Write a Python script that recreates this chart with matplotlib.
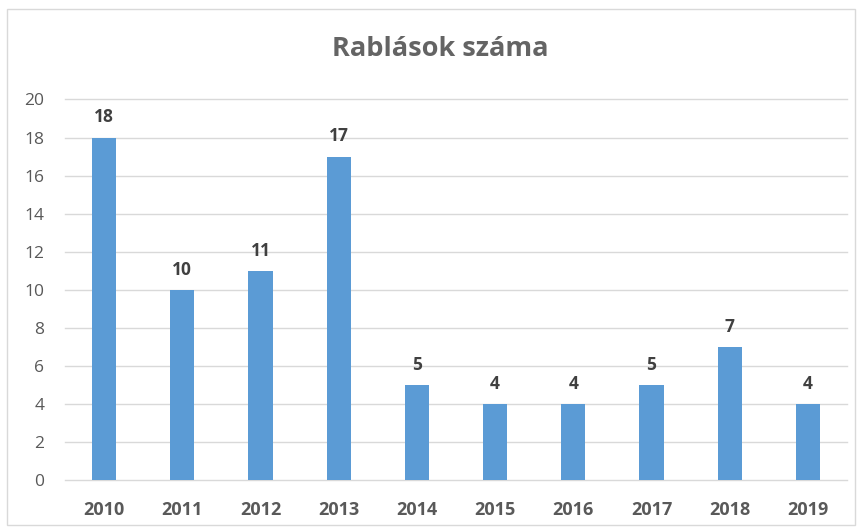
import matplotlib
matplotlib.use("Agg")
import matplotlib.pyplot as plt
from matplotlib.patches import Rectangle

years = ["2010", "2011", "2012", "2013", "2014", "2015", "2016", "2017", "2018", "2019"]
values = [18, 10, 11, 17, 5, 4, 4, 5, 7, 4]
title = "Rablások száma"
yticks = [0, 2, 4, 6, 8, 10, 12, 14, 16, 18, 20]

plt.rcParams['font.family'] = ['Open Sans', 'DejaVu Sans']

fig = plt.figure(figsize=(8.63, 5.30), dpi=100)
fig.patches.append(Rectangle((7/863, 5/530), 848/863, 516/530, transform=fig.transFigure,
                             fill=False, edgecolor='#d9d9d9', linewidth=1))
ax = fig.add_axes([65/863, 50/530, 782/863, 380.5/530])

x = list(range(len(years)))
bars = ax.bar(x, values, width=0.31, color='#5b9bd5', zorder=3)
for xi, v in zip(x, values):
    ax.annotate(str(v), (xi, v), xytext=(0, 8), textcoords='offset points',
                ha='center', va='bottom', fontsize=12.5, fontweight='bold', color='#404040')

ax.set_xlim(-0.5, len(years) - 0.5)
ax.set_ylim(0, 20)
ax.set_yticks(yticks)
ax.set_xticks(x)
ax.set_xticklabels(years, fontsize=13, fontweight='bold', color='#595959')
ax.tick_params(axis='y', labelsize=12.5, labelcolor='#595959', length=0, pad=15)
ax.tick_params(axis='x', length=0, pad=15)
ax.grid(axis='y', color='#d9d9d9', linewidth=1, zorder=0)
for gl in ax.get_ygridlines():
    gl.set_clip_on(False)
for s in ax.spines.values():
    s.set_visible(False)

fig.text(440/863, 1 - 49/530, title, ha='center', va='center', fontsize=19.5,
         fontweight='bold', color='#646464')

fig.savefig("out.png", dpi=100)
